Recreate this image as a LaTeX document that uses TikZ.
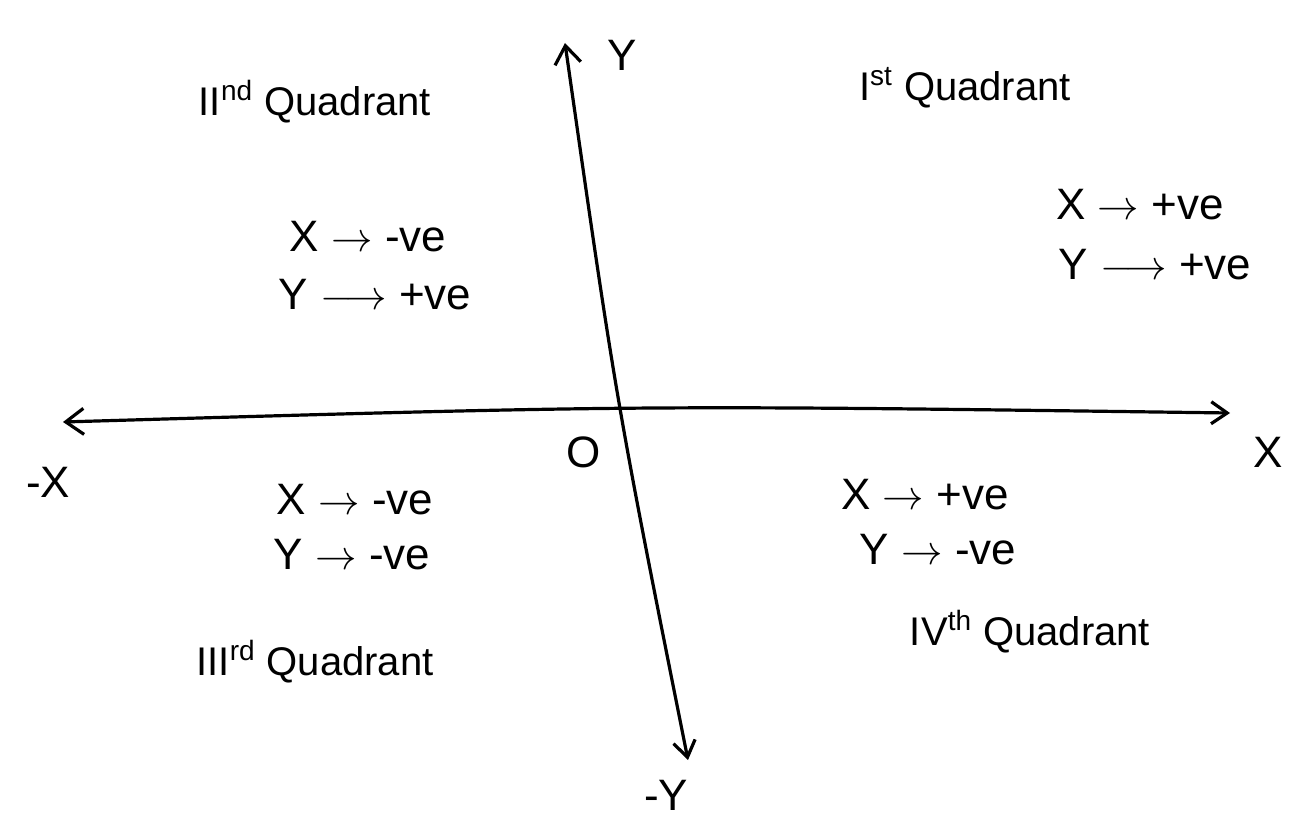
\documentclass[tikz,border=0pt]{standalone}
\usepackage{fontspec}
\setmainfont{Liberation Sans}
\usetikzlibrary{arrows.meta}
\begin{document}
\begin{tikzpicture}[x=0.5pt,y=-0.5pt,
  axis/.style={line width=1.6pt,{Straight Barb[length=9pt,width=13pt]}-{Straight Barb[length=8pt,width=11pt]}},
  lbl/.style={font=\fontsize{22}{26}\selectfont,inner sep=1pt},
  quad/.style={font=\fontsize{20}{24}\selectfont,inner sep=1pt}]
\useasboundingbox (0,0) rectangle (1303,824);
\coordinate (xl) at (63,422);
\coordinate (xr) at (1230,413);
\coordinate (yt) at (565,43);
\coordinate (yb) at (688,760);
\draw[axis] (xl) .. controls (640,405) .. (xr);
\draw[axis] (yt) .. controls (616,400) .. (yb);
\node[lbl] (Y) at (622,55) {Y};
\node[lbl] (X) at (1268,452) {X};
\node[lbl] (mX) at (48,482) {-X};
\node[lbl] (mY) at (666,795) {-Y};
\node[lbl] (O) at (584,452) {O};
\node[quad] (q2) at (315,102) {II\textsuperscript{nd} Quadrant};
\node[quad] (q1) at (965,88) {I\textsuperscript{st} Quadrant};
\node[quad] (q4) at (1030,632) {IV\textsuperscript{th} Quadrant};
\node[quad] (q3) at (315,662) {III\textsuperscript{rd} Quadrant};
\node[lbl] (a1) at (368,237) {X $\rightarrow$ -ve};
\node[lbl] (a2) at (375,295) {Y $\longrightarrow$ +ve};
\node[lbl] (b1) at (1140,205) {X $\rightarrow$ +ve};
\node[lbl] (b2) at (1155,265) {Y $\longrightarrow$ +ve};
\node[lbl] (c1) at (355,500) {X $\rightarrow$ -ve};
\node[lbl] (c2) at (352,555) {Y $\rightarrow$ -ve};
\node[lbl] (d1) at (925,495) {X $\rightarrow$ +ve};
\node[lbl] (d2) at (938,550) {Y $\rightarrow$ -ve};
\end{tikzpicture}
\end{document}
